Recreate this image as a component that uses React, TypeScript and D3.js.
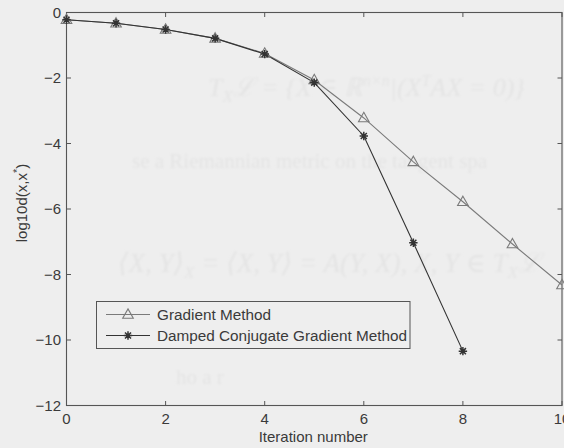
import React from "react";
import * as d3 from "d3";

// Iteration index and log10 distance to the solution for each method
const iterations = [0, 1, 2, 3, 4, 5, 6, 7, 8, 9, 10];
const gradientValues = [-0.22, -0.33, -0.52, -0.79, -1.25, -2.06, -3.22, -4.56, -5.78, -7.07, -8.32];
const cgIterations = [0, 1, 2, 3, 4, 5, 6, 7, 8];
const cgValues = [-0.22, -0.33, -0.52, -0.79, -1.27, -2.14, -3.77, -7.03, -10.34];

const xTicks = [0, 2, 4, 6, 8, 10];
const yTicks = [0, -2, -4, -6, -8, -10, -12];
const seriesNames = ["Gradient Method", "Damped Conjugate Gradient Method"];

const W = 564;
const H = 448;
const margin = { left: 66.5, right: 2, top: 12.5, bottom: 42.5 };

const FONT = "'Liberation Sans', Arial, Helvetica, sans-serif";
const SERIF = "'Liberation Serif', 'DejaVu Serif', serif";

const x = d3.scaleLinear().domain([0, 10]).range([margin.left, W - margin.right]);
const y = d3.scaleLinear().domain([-12, 0]).range([H - margin.bottom, margin.top]);

const line = d3
  .line<[number, number]>()
  .x((d) => x(d[0]))
  .y((d) => y(d[1]));

function Triangle({ cx, cy, color }: { cx: number; cy: number; color: string }) {
  const hw = 5.3;
  const h = 9.4;
  const d = `M${cx},${cy - h * 0.6}L${cx + hw},${cy + h * 0.4}L${cx - hw},${cy + h * 0.4}Z`;
  return <path d={d} fill="none" stroke={color} strokeWidth={1.1} />;
}

function Star({ cx, cy, color }: { cx: number; cy: number; color: string }) {
  const r = 4.2;
  const k = r * 0.72;
  const d = `M${cx - r},${cy}L${cx + r},${cy}M${cx},${cy - r}L${cx},${cy + r}M${cx - k},${cy - k}L${cx + k},${cy + k}M${cx - k},${cy + k}L${cx + k},${cy - k}`;
  return <path d={d} fill="none" stroke={color} strokeWidth={1.5} />;
}

export default function App() {
  const gradPts: [number, number][] = iterations.map((it, i) => [it, gradientValues[i]]);
  const cgPts: [number, number][] = cgIterations.map((it, i) => [it, cgValues[i]]);

  const x0 = margin.left;
  const x1 = W - margin.right;
  const y0 = margin.top;
  const y1 = H - margin.bottom;
  const tickLen = 4.5;
  const axisColor = "#555";
  const textColor = "#3a3a3a";
  const gradColor = "#7a7a7a";
  const cgColor = "#333";
  const ghost = "#e4e4e4";

  return (
    <svg
      width={W}
      height={H}
      style={{ position: "absolute", left: 0, top: 0, display: "block", background: "#eeeeee" }}
    >
      <defs>
        <filter id="soft" x="-5%" y="-20%" width="110%" height="140%">
          <feGaussianBlur stdDeviation={0.9} />
        </filter>
      </defs>
      <rect x={0} y={0} width={W} height={H} fill="#eeeeee" />

      {/* faint print from the reverse side of the page */}
      <g fill={ghost} fontFamily={SERIF} filter="url(#soft)">
        <text x={208} y={96} fontSize={26} fontStyle="italic">
          T<tspan fontSize={17} dy={6}>X</tspan>
          <tspan dy={-6}>ℒ = {"{"}X ∈ ℝ</tspan>
          <tspan fontSize={16} dy={-10}>n×n</tspan>
          <tspan dy={10}>|(X</tspan>
          <tspan fontSize={16} dy={-10}>T</tspan>
          <tspan dy={10}>AX = 0){"}"}</tspan>
        </text>
        <text x={132} y={168} fontSize={21}>se a Riemannian metric on the tangent spa</text>
        <text x={118} y={272} fontSize={27} fontStyle="italic">
          ⟨X, Y⟩<tspan fontSize={17} dy={6}>X</tspan>
          <tspan dy={-6}> = ⟨X, Y⟩ = A(Y, X), X, Y ∈ T</tspan>
          <tspan fontSize={17} dy={6}>X</tspan>
          <tspan dy={-6}>ℒ</tspan>
        </text>
        <text x={176} y={384} fontSize={21}>ho a r</text>
      </g>

      {/* plot box */}
      <rect x={x0} y={y0} width={x1 - x0} height={y1 - y0} fill="none" stroke={axisColor} strokeWidth={1.1} />

      {/* ticks, drawn inward on all four sides */}
      <g stroke={axisColor} strokeWidth={1}>
        {xTicks.map((t) => (
          <g key={`xt${t}`}>
            <line x1={x(t)} x2={x(t)} y1={y1} y2={y1 - tickLen} />
            <line x1={x(t)} x2={x(t)} y1={y0} y2={y0 + tickLen} />
          </g>
        ))}
        {yTicks.map((t) => (
          <g key={`yt${t}`}>
            <line x1={x0} x2={x0 + tickLen} y1={y(t)} y2={y(t)} />
            <line x1={x1} x2={x1 - tickLen} y1={y(t)} y2={y(t)} />
          </g>
        ))}
      </g>

      {/* tick labels */}
      <g fontFamily={FONT} fontSize={15} fill={textColor}>
        {xTicks.map((t) => (
          <text key={`xl${t}`} x={x(t)} y={424} textAnchor="middle">
            {t}
          </text>
        ))}
        {yTicks.map((t) => (
          <text key={`yl${t}`} x={61} y={y(t) + 5} textAnchor="end">
            {t < 0 ? `\u2212${Math.abs(t)}` : t}
          </text>
        ))}
      </g>

      {/* axis titles */}
      <text
        x={x((0 + 10) / 2) - 1}
        y={442}
        textAnchor="middle"
        fontFamily={FONT}
        fontSize={15}
        fill={textColor}
      >
        Iteration number
      </text>
      <text
        transform={`translate(27,${203}) rotate(-90)`}
        textAnchor="middle"
        fontFamily={FONT}
        fontSize={15}
        fill={textColor}
      >
        log10d(x,x<tspan fontSize={11} dy={-6}>*</tspan>
        <tspan dy={6}>)</tspan>
      </text>

      {/* series lines */}
      <path d={line(gradPts) ?? ""} fill="none" stroke={gradColor} strokeWidth={1.1} />
      <path d={line(cgPts) ?? ""} fill="none" stroke={cgColor} strokeWidth={1.1} />

      {/* markers */}
      {gradPts.map(([a, b]) => (
        <Triangle key={`g${a}`} cx={x(a)} cy={y(b)} color={gradColor} />
      ))}
      {cgPts.map(([a, b]) => (
        <Star key={`c${a}`} cx={x(a)} cy={y(b)} color={cgColor} />
      ))}

      {/* legend */}
      <g>
        <rect x={96.5} y={301.5} width={313.5} height={47} fill="#eeeeee" stroke={axisColor} strokeWidth={1} />
        <line x1={106} x2={150} y1={314.5} y2={314.5} stroke={gradColor} strokeWidth={1.1} />
        <Triangle cx={128} cy={314.5} color={gradColor} />
        <line x1={106} x2={150} y1={335.5} y2={335.5} stroke={cgColor} strokeWidth={1.1} />
        <Star cx={128} cy={335.5} color={cgColor} />
        <text x={157} y={320} fontFamily={FONT} fontSize={15.3} fill={textColor}>
          {seriesNames[0]}
        </text>
        <text x={157} y={341} fontFamily={FONT} fontSize={15.3} fill={textColor}>
          {seriesNames[1]}
        </text>
      </g>
    </svg>
  );
}
